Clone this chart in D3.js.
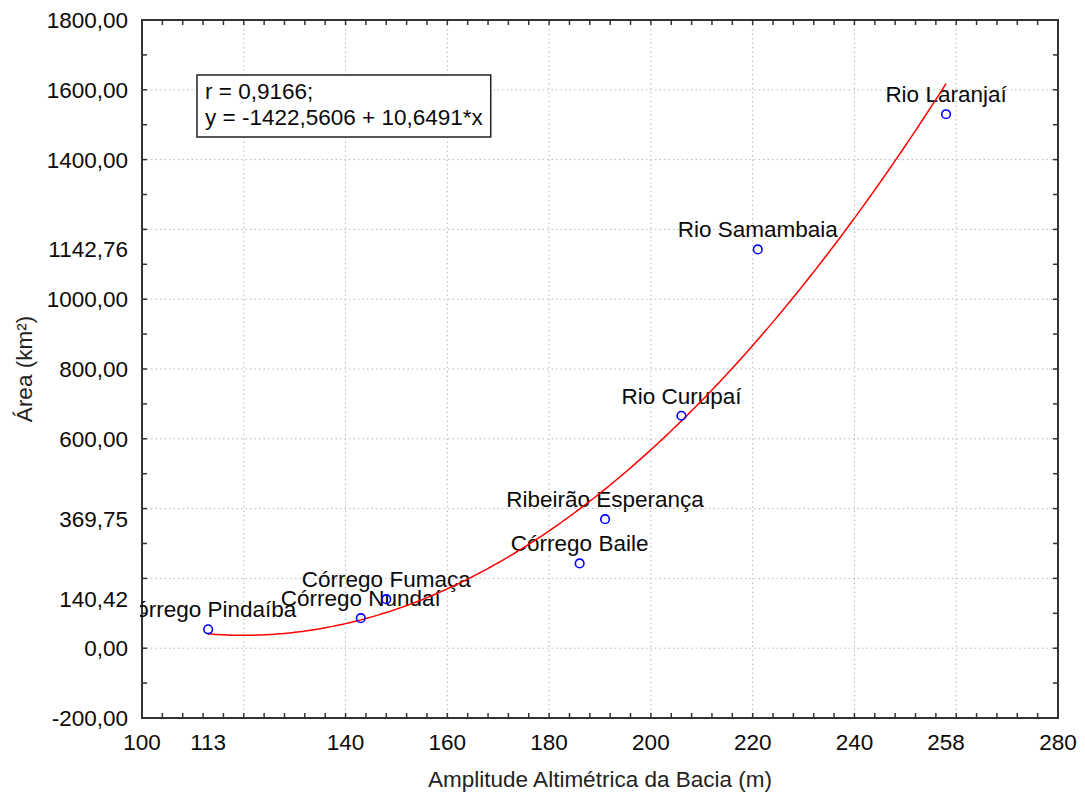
<!DOCTYPE html>
<html>
<head>
<meta charset="utf-8">
<script src="https://cdn.jsdelivr.net/npm/d3@7"></script>
<style>
  html, body { margin: 0; padding: 0; background: #fff; }
  svg { display: block; font-family: "Liberation Sans", Arial, sans-serif; }
</style>
</head>
<body>
<svg id="chart" width="1085" height="792"></svg>
<script>
// ---- data ----
const names = ["Córrego Pindaíba", "Córrego Nundaí", "Córrego Fumaça", "Córrego Baile",
               "Ribeirão Esperança", "Rio Curupaí", "Rio Samambaia", "Rio Laranjaí"];
const amplitude = [113, 143, 148, 186, 191, 206, 221, 258];
const area = [54, 86, 140.42, 243, 369.75, 666, 1142.76, 1530];

const xTickLabels = [100, 113, 140, 160, 180, 200, 220, 240, 258, 280];
const yTickLabels = [1800, 1600, 1400, 1142.76, 1000, 800, 600, 369.75, 140.42, 0, -200];
const xGrid = [120, 140, 160, 180, 200, 220, 240, 260];
const yGrid = [0, 200, 400, 600, 800, 1000, 1200, 1400, 1600];
const statLines = ["r = 0,9166;", "y = -1422,5606 + 10,6491*x"];
const xTitle = "Amplitude Altimétrica da Bacia (m)";
const yTitle = "Área (km²)";

// ---- layout ----
const L = 142, T = 20, W = 916, H = 698;
const FS = 22.5;
const svg = d3.select("#chart");
const x = d3.scaleLinear().domain([100, 280]).range([L, L + W]);
const y = d3.scaleLinear().domain([-200, 1800]).range([T + H, T]);
const fmt = v => v.toFixed(2).replace(".", ",");

// grid
const g = svg.append("g");
g.selectAll(".gx").data(xGrid).join("line")
  .attr("x1", d => x(d)).attr("x2", d => x(d)).attr("y1", T).attr("y2", T + H)
  .attr("stroke", "#b8b8b8").attr("stroke-width", 1).attr("stroke-dasharray", "1.5,3");
g.selectAll(".gy").data(yGrid).join("line")
  .attr("y1", d => y(d)).attr("y2", d => y(d)).attr("x1", L).attr("x2", L + W)
  .attr("stroke", "#b8b8b8").attr("stroke-width", 1).attr("stroke-dasharray", "1.5,3");

// ticks (inward, all four sides)
const xMinor = d3.range(100, 280.1, 4);
const yMinor = d3.range(-200, 1800.1, 100);
const tk = svg.append("g").attr("stroke", "#333").attr("stroke-width", 1.5);
tk.selectAll(".tb").data(xMinor).join("line")
  .attr("x1", d => x(d)).attr("x2", d => x(d)).attr("y1", T + H).attr("y2", T + H - 5);
tk.selectAll(".tt").data(xMinor).join("line")
  .attr("x1", d => x(d)).attr("x2", d => x(d)).attr("y1", T).attr("y2", T + 5);
tk.selectAll(".tl").data(yMinor).join("line")
  .attr("y1", d => y(d)).attr("y2", d => y(d)).attr("x1", L).attr("x2", L + 5);
tk.selectAll(".tr").data(yMinor).join("line")
  .attr("y1", d => y(d)).attr("y2", d => y(d)).attr("x1", L + W).attr("x2", L + W - 5);

// frame
svg.append("rect").attr("x", L).attr("y", T).attr("width", W).attr("height", H)
  .attr("fill", "none").attr("stroke", "#333").attr("stroke-width", 2);

// tick labels
svg.append("g").selectAll("text").data(xTickLabels).join("text")
  .attr("x", d => x(d)).attr("y", T + H + 32).attr("text-anchor", "middle")
  .attr("font-size", FS).attr("fill", "#0a0a0a").text(d => d);
svg.append("g").selectAll("text").data(yTickLabels).join("text")
  .attr("x", L - 14).attr("y", d => y(d)).attr("dy", "0.36em").attr("text-anchor", "end")
  .attr("font-size", FS).attr("fill", "#0a0a0a").text(d => fmt(d));

// axis titles
svg.append("text").attr("x", L + W / 2).attr("y", 787).attr("text-anchor", "middle")
  .attr("font-size", FS).attr("fill", "#222").text(xTitle);
svg.append("text").attr("transform", `translate(32,${T + H / 2}) rotate(-90)`)
  .attr("text-anchor", "middle").attr("font-size", FS).attr("fill", "#222").text(yTitle);

// clip for plot contents
svg.append("defs").append("clipPath").attr("id", "plotclip")
  .append("rect").attr("x", L - 2).attr("y", T).attr("width", W + 2).attr("height", H);
const plot = svg.append("g").attr("clip-path", "url(#plotclip)");

const pts = names.map((n, i) => ({ name: n, x: amplitude[i], y: area[i] }));

// point labels
plot.selectAll(".lbl").data(pts).join("text")
  .attr("x", d => x(d.x)).attr("y", d => y(d.y) - 12).attr("text-anchor", "middle")
  .attr("font-size", FS).attr("fill", "#0a0a0a").text(d => d.name);

// quadratic least-squares fit computed from the data
function quadFit(xs, ys) {
  const m = d3.mean(xs);
  let s = [0, 0, 0, 0, 0], t = [0, 0, 0];
  xs.forEach((xv, i) => {
    const u = xv - m;
    for (let k = 0; k < 5; k++) s[k] += Math.pow(u, k);
    for (let k = 0; k < 3; k++) t[k] += ys[i] * Math.pow(u, k);
  });
  const A = [[s[0], s[1], s[2], t[0]], [s[1], s[2], s[3], t[1]], [s[2], s[3], s[4], t[2]]];
  for (let c = 0; c < 3; c++) {
    for (let r = c + 1; r < 3; r++) {
      const f = A[r][c] / A[c][c];
      for (let k = c; k < 4; k++) A[r][k] -= f * A[c][k];
    }
  }
  const sol = [0, 0, 0];
  for (let r = 2; r >= 0; r--) {
    let v = A[r][3];
    for (let k = r + 1; k < 3; k++) v -= A[r][k] * sol[k];
    sol[r] = v / A[r][r];
  }
  return xv => { const u = xv - m; return sol[0] + sol[1] * u + sol[2] * u * u; };
}
const fit = quadFit(amplitude, area);
const xs = d3.range(d3.min(amplitude), d3.max(amplitude) + 0.001, 0.5);
plot.append("path").datum(xs)
  .attr("d", d3.line().x(d => x(d)).y(d => y(fit(d))))
  .attr("fill", "none").attr("stroke", "#ff0000").attr("stroke-width", 1.5);

// points
plot.selectAll(".pt").data(pts).join("circle")
  .attr("cx", d => x(d.x)).attr("cy", d => y(d.y)).attr("r", 4.3)
  .attr("fill", "none").attr("stroke", "#0000ff").attr("stroke-width", 1.6);

// stats box
const bx = 197, by = 75;
const box = svg.append("g");
const rect = box.append("rect").attr("x", bx).attr("y", by).attr("height", 62)
  .attr("fill", "#fff").attr("stroke", "#222").attr("stroke-width", 1.5);
const tx = box.selectAll("text").data(statLines).join("text")
  .attr("x", bx + 8).attr("y", (d, i) => by + 24 + i * 26)
  .attr("font-size", FS).attr("fill", "#0a0a0a").text(d => d);
let maxW = 0;
tx.each(function () { maxW = Math.max(maxW, this.getComputedTextLength()); });
rect.attr("width", maxW + 16);
</script>
</body>
</html>
